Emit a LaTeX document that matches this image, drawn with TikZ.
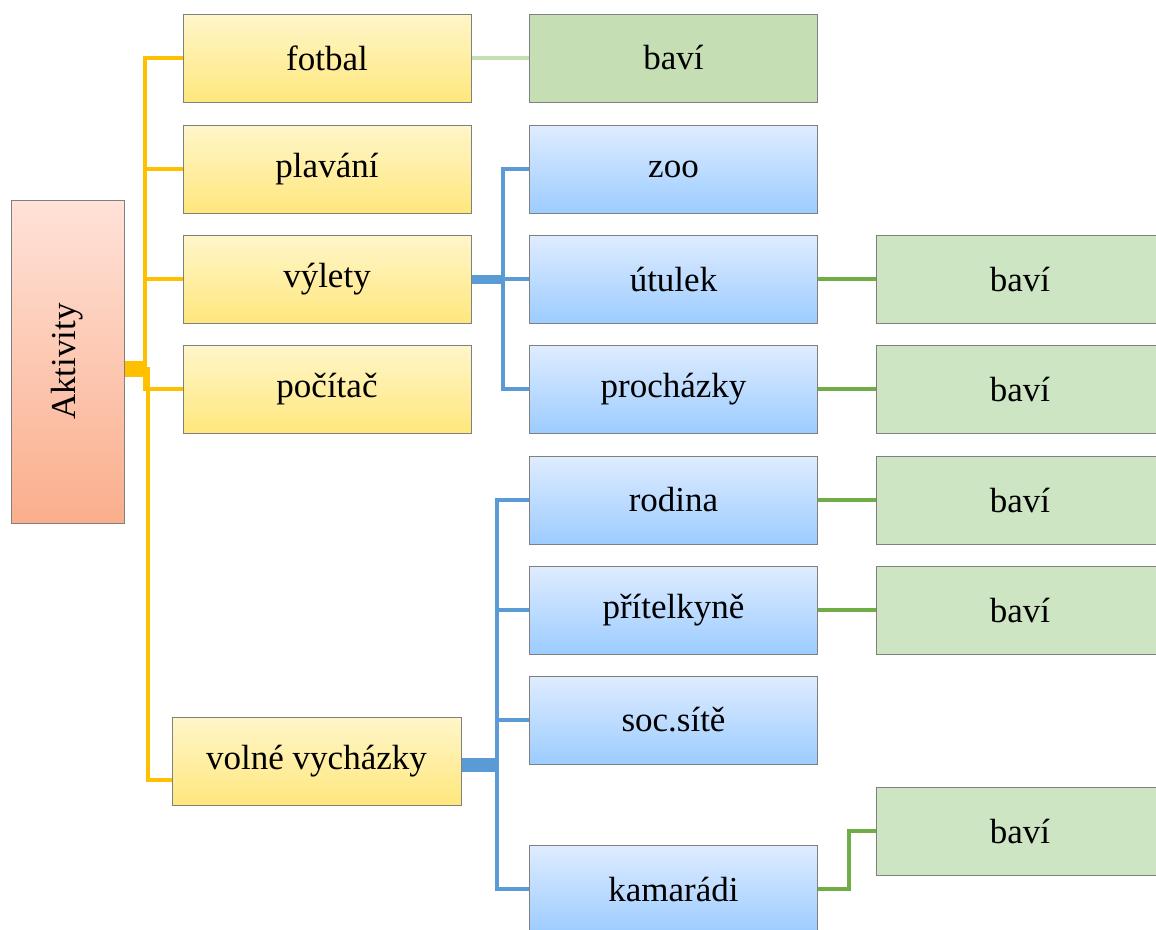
\documentclass[tikz,border=0pt]{standalone}
\usepackage{fontspec}
\setmainfont{Liberation Serif}
\usetikzlibrary{calc}

\definecolor{ylwtop}{RGB}{255,246,202}
\definecolor{ylwbot}{RGB}{255,231,125}
\definecolor{blutop}{RGB}{223,236,255}
\definecolor{blubot}{RGB}{156,204,255}
\definecolor{pnktop}{RGB}{255,226,216}
\definecolor{pnkbot}{RGB}{250,174,140}
\definecolor{grndark}{RGB}{197,222,180}
\definecolor{grnlite}{RGB}{206,229,196}
\definecolor{orangeln}{RGB}{255,192,0}
\definecolor{blueln}{RGB}{91,155,213}
\definecolor{greenln}{RGB}{112,173,71}
\definecolor{paleln}{RGB}{197,224,180}

\tikzset{
    box/.style={rectangle, draw={rgb,255:red,128;green,128;blue,128}, line width=1pt,
        minimum width=288pt, minimum height=88pt, inner sep=0pt,
        font=\fontsize{35}{42}\selectfont},
    ylwbox/.style={box, top color=ylwtop, bottom color=ylwbot},
    blubox/.style={box, top color=blutop, bottom color=blubot},
    grnbox/.style={box, fill=grnlite},
    orangeline/.style={orangeln, line width=4pt},
    blueline/.style={blueln, line width=4pt},
    greenline/.style={greenln, line width=4pt}
}

\begin{document}
\begin{tikzpicture}[x=1pt, y=-1pt]
            % Define the column positions
            \def\cy{327}   % centre of the yellow column
            \def\cb{673.5} % centre of the blue column
            \def\cg{1020}  % centre of the right green column

            \useasboundingbox (0,0) rectangle (1156,929);

            % Draw the root
            \node[box, top color=pnktop, bottom color=pnkbot, minimum width=113pt,
                  minimum height=323pt] (akt) at (67.5,361.5) {};
            \node[rotate=90, font=\fontsize{35}{42}\selectfont] (akttext) at (akt.center) {Aktivity};

            % Draw the yellow column
            \node[ylwbox] (fotbal) at (\cy,58) {fotbal};
            \node[ylwbox] (plavani) at (\cy,169) {plavání};
            \node[ylwbox] (vylety) at (\cy,279) {výlety};
            \node[ylwbox] (pocitac) at (\cy,389) {počítač};
            \node[ylwbox, minimum width=289pt] (volne) at (316.5,761) {volné vycházky};

            % Draw the blue column
            \node[blubox] (zoo) at (\cb,169) {zoo};
            \node[blubox] (utulek) at (\cb,279) {útulek};
            \node[blubox] (prochazky) at (\cb,389) {procházky};
            \node[blubox] (rodina) at (\cb,500) {rodina};
            \node[blubox] (pritelkyne) at (\cb,610) {přítelkyně};
            \node[blubox] (socsite) at (\cb,720) {soc.sítě};
            \node[blubox] (kamaradi) at (\cb,889) {kamarádi};

            % Draw the green boxes
            \node[box, fill=grndark] (bavi1) at (\cb,58) {baví};
            \node[grnbox] (bavi2) at (\cg,279) {baví};
            \node[grnbox] (bavi3) at (\cg,389) {baví};
            \node[grnbox] (bavi4) at (\cg,500) {baví};
            \node[grnbox] (bavi5) at (\cg,610) {baví};
            \node[grnbox] (bavi6) at (\cg,831) {baví};

            % Junctions of the trees
            \coordinate (ja) at (145,369);
            \coordinate (jv) at (503,279);
            \coordinate (jw) at (497,765);

            % Draw the orange tree
            \draw[orangeln, line width=16pt] (akt.east |- ja) -- (ja);
            \foreach \n in {fotbal,plavani,vylety,pocitac}
                \draw[orangeline] (ja) |- (\n.west);
            \draw[orangeline] (ja) -- ++(3,0) |- ([yshift=-19pt]volne.west);

            % Draw the blue trees
            \draw[blueln, line width=9pt] (vylety.east) -- (jv);
            \foreach \n in {zoo,utulek,prochazky}
                \draw[blueline] (jv) |- (\n.west);
            \draw[blueln, line width=14pt] (volne.east |- jw) -- (jw);
            \foreach \n in {rodina,pritelkyne,socsite,kamaradi}
                \draw[blueline] (jw) |- (\n.west);

            % Draw the green links
            \draw[paleln, line width=4pt] (fotbal.east) -- (bavi1.west);
            \draw[greenline] (utulek.east) -- (bavi2.west);
            \draw[greenline] (prochazky.east) -- (bavi3.west);
            \draw[greenline] (rodina.east) -- (bavi4.west);
            \draw[greenline] (pritelkyne.east) -- (bavi5.west);
            \draw[greenline] (kamaradi.east) -- ++(31,0) |- (bavi6.west);

        \end{tikzpicture}
\end{document}
